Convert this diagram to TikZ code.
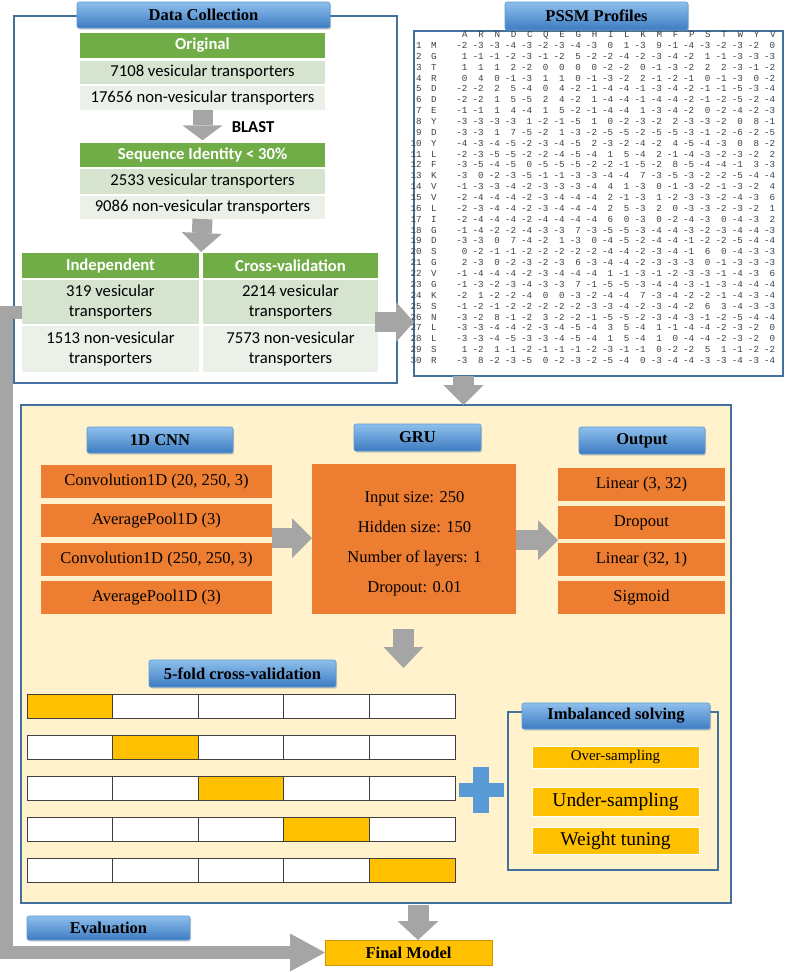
\documentclass[tikz,border=0pt]{standalone}
\usepackage{fontspec}
\setmainfont{Liberation Serif}
\newfontfamily\calibri{Carlito}
\newfontfamily\courier{Liberation Mono}
\usetikzlibrary{arrows.meta,fit,shadows}

\definecolor{panelblue}{HTML}{41719C}
\definecolor{titletop}{HTML}{8EBFEC}
\definecolor{titlebot}{HTML}{3D7CC2}
\definecolor{titleedge}{HTML}{5B9BD5}
\definecolor{tabgreen}{HTML}{70AD47}
\definecolor{tabrowa}{HTML}{D5E3CF}
\definecolor{tabrowb}{HTML}{EBF1E9}
\definecolor{cnnorange}{HTML}{ED7D31}
\definecolor{gold}{HTML}{FFC000}
\definecolor{cream}{HTML}{FFF2CC}
\definecolor{arrowgray}{HTML}{A5A5A5}
\definecolor{pssmgray}{HTML}{404040}
\definecolor{plusblue}{HTML}{5B9BD5}

\begin{document}
\begin{tikzpicture}[x=0.75pt, y=-0.75pt,
    pxbox/.style={inner sep=0pt, outer sep=0pt},
    titlebox/.style={pxbox, rounded corners=1.5pt, top color=titletop, bottom color=titlebot,
        draw=titleedge, line width=0.4pt,
        drop shadow={opacity=0.35, shadow xshift=0.8pt, shadow yshift=-1.2pt}},
    titletxt/.style={inner sep=0pt, font=\fontsize{12.4}{14}\selectfont\bfseries},
    panel/.style={pxbox, draw=panelblue, line width=1.5pt},
    greenhead/.style={pxbox, fill=tabgreen},
    greenrow/.style={pxbox, fill=tabrowa},
    greenrowb/.style={pxbox, fill=tabrowb},
    headtxt/.style={inner sep=0pt, text=white, font=\calibri\fontsize{12.5}{15}\selectfont\bfseries},
    rowtxt/.style={inner sep=0pt, align=center, font=\calibri\fontsize{12.5}{15}\selectfont},
    orangebox/.style={pxbox, fill=cnnorange},
    celltxt/.style={inner sep=0pt, font=\fontsize{12.4}{14}\selectfont},
    goldbox/.style={pxbox, fill=gold, draw=white, line width=0.6pt},
    foldcell/.style={draw=black!75, line width=0.75pt},
    pssmtxt/.style={inner sep=0pt, text=pssmgray, text height=4.5pt, text depth=0pt,
        font=\courier\fontsize{6.9}{8}\selectfont},
    fatarrow/.style n args={3}{draw=arrowgray, line width=#1,
        -{Triangle[width=#2, length=#3, line width=0pt]}}
]
\useasboundingbox (0,0) rectangle (787,972);

% Data collection
\node[panel, fill=white, fit={(14,16) (397,383)}] (dc) {};
\node[titlebox, fit={(77,2) (330,28)}] (dctitle) {};
\node[titletxt] (dctitlet) at (dctitle) {Data Collection};

\node[greenhead, fit={(80,33) (325,58)}] (orig) {};
\node[headtxt] (origt) at (orig) {Original};
\node[greenrow, fit={(80,61) (325,84)}] (ves1) {};
\node[rowtxt] (ves1t) at (ves1) {7108 vesicular transporters};
\node[greenrowb, fit={(80,86) (325,110)}] (non1) {};
\node[rowtxt] (non1t) at (non1) {17656 non-vesicular transporters};

\node[font=\calibri\fontsize{12.5}{15}\selectfont\bfseries] (blast) at (253,127) {BLAST};

\node[greenhead, fit={(80,143) (325,167)}] (seq) {};
\node[headtxt] (seqt) at (seq) {Sequence Identity < 30\%};
\node[greenrow, fit={(80,169) (325,194)}] (ves2) {};
\node[rowtxt] (ves2t) at (ves2) {2533 vesicular transporters};
\node[greenrowb, fit={(80,196) (325,219)}] (non2) {};
\node[rowtxt] (non2t) at (non2) {9086 non-vesicular transporters};

\node[greenhead, fit={(22,253) (199,278)}] (indhead) {};
\node[headtxt] (indheadt) at (indhead) {Independent};
\node[greenhead, fit={(203,253) (378,278)}] (cvhead) {};
\node[headtxt] (cvheadt) at (cvhead) {Cross-validation};
\node[greenrow, fit={(22,280) (199,324)}] (indves) {};
\node[rowtxt] (indvest) at (indves) {319 vesicular\\transporters};
\node[greenrow, fit={(203,280) (378,324)}] (cvves) {};
\node[rowtxt] (cvvest) at (cvves) {2214 vesicular\\transporters};
\node[greenrowb, fit={(22,326) (199,372)}] (indnon) {};
\node[rowtxt] (indnont) at (indnon) {1513 non-vesicular\\transporters};
\node[greenrowb, fit={(203,326) (378,372)}] (cvnon) {};
\node[rowtxt] (cvnont) at (cvnon) {7573 non-vesicular\\transporters};

\coordinate (split) at (201,252);
\draw[fatarrow={15pt}{30pt}{11.25pt}, shorten >=2pt] (non1.south) -- (seq.north);
\draw[fatarrow={15pt}{30pt}{14.25pt}] (non2.south) -- (split);

% PSSM profiles
\node[panel, fill=white, fit={(414,31) (783,376)}] (pssm) {};
\node[titlebox, fit={(505,2) (688,30)}] (pssmtitle) {};
\node[titletxt] (pssmtitlet) at (pssmtitle) {PSSM Profiles};
\foreach \aa [count=\c] in {A,R,N,D,C,Q,E,G,H,I,L,K,M,F,P,S,T,W,Y,V}
    \node[pssmtxt] (h\c) at ({465+(\c-1)*16.2},34) {\aa};
\foreach \n/\aa/\vals in {
    1/M/{-2,-3,-3,-4,-3,-2,-3,-4,-3,0,1,-3,9,-1,-4,-3,-2,-3,-2,0},
    2/G/{1,-1,-1,-2,-3,-1,-2,5,-2,-2,-4,-2,-3,-4,-2,1,-1,-3,-3,-3},
    3/T/{1,1,1,2,-2,0,0,0,0,-2,-2,0,-1,-3,-2,2,2,-3,-1,-2},
    4/R/{0,4,0,-1,-3,1,1,0,-1,-3,-2,2,-1,-2,-1,0,-1,-3,0,-2},
    5/D/{-2,-2,2,5,-4,0,4,-2,-1,-4,-4,-1,-3,-4,-2,-1,-1,-5,-3,-4},
    6/D/{-2,-2,1,5,-5,2,4,-2,1,-4,-4,-1,-4,-4,-2,-1,-2,-5,-2,-4},
    7/E/{-1,-1,1,4,-4,1,5,-2,-1,-4,-4,1,-3,-4,-2,0,-2,-4,-2,-3},
    8/Y/{-3,-3,-3,-3,1,-2,-1,-5,1,0,-2,-3,-2,2,-3,-3,-2,0,8,-1},
    9/D/{-3,-3,1,7,-5,-2,1,-3,-2,-5,-5,-2,-5,-5,-3,-1,-2,-6,-2,-5},
    10/Y/{-4,-3,-4,-5,-2,-3,-4,-5,2,-3,-2,-4,-2,4,-5,-4,-3,0,8,-2},
    11/L/{-2,-3,-5,-5,-2,-2,-4,-5,-4,1,5,-4,2,-1,-4,-3,-2,-3,-2,2},
    12/F/{-3,-5,-4,-5,0,-5,-5,-5,-2,-2,-1,-5,-2,8,-5,-4,-4,-1,3,-3},
    13/K/{-3,0,-2,-3,-5,-1,-1,-3,-3,-4,-4,7,-3,-5,-3,-2,-2,-5,-4,-4},
    14/V/{-1,-3,-3,-4,-2,-3,-3,-3,-4,4,1,-3,0,-1,-3,-2,-1,-3,-2,4},
    15/V/{-2,-4,-4,-4,-2,-3,-4,-4,-4,2,-1,-3,1,-2,-3,-3,-2,-4,-3,6},
    16/L/{-2,-3,-4,-4,-2,-3,-4,-4,-4,2,5,-3,2,0,-3,-3,-2,-3,-2,1},
    17/I/{-2,-4,-4,-4,-2,-4,-4,-4,-4,6,0,-3,0,-2,-4,-3,0,-4,-3,2},
    18/G/{-1,-4,-2,-2,-4,-3,-3,7,-3,-5,-5,-3,-4,-4,-3,-2,-3,-4,-4,-3},
    19/D/{-3,-3,0,7,-4,-2,1,-3,0,-4,-5,-2,-4,-4,-1,-2,-2,-5,-4,-4},
    20/S/{0,-2,-1,-1,-2,-2,-2,-2,-2,-4,-4,-2,-3,-4,-1,6,0,-4,-3,-3},
    21/G/{2,-3,0,-2,-3,-2,-3,6,-3,-4,-4,-2,-3,-3,-3,0,-1,-3,-3,-3},
    22/V/{-1,-4,-4,-4,-2,-3,-4,-4,-4,1,-1,-3,-1,-2,-3,-3,-1,-4,-3,6},
    23/G/{-1,-3,-2,-3,-4,-3,-3,7,-1,-5,-5,-3,-4,-4,-3,-1,-3,-4,-4,-4},
    24/K/{-2,1,-2,-2,-4,0,0,-3,-2,-4,-4,7,-3,-4,-2,-2,-1,-4,-3,-4},
    25/S/{-1,-2,-1,-2,-2,-2,-2,-2,-3,-3,-4,-2,-3,-4,-2,6,3,-4,-3,-3},
    26/N/{-3,-2,8,-1,-2,3,-2,-2,-1,-5,-5,-2,-3,-4,-3,-1,-2,-5,-4,-4},
    27/L/{-3,-3,-4,-4,-2,-3,-4,-5,-4,3,5,-4,1,-1,-4,-4,-2,-3,-2,0},
    28/L/{-3,-3,-4,-5,-3,-3,-4,-5,-4,1,5,-4,1,0,-4,-4,-2,-3,-2,0},
    29/S/{1,-2,1,-1,-2,-1,-1,-1,-2,-3,-1,-1,0,-2,-2,5,1,-1,-2,-2},
    30/R/{-3,8,-2,-3,-5,0,-2,-3,-2,-5,-4,0,-3,-4,-4,-3,-3,-4,-3,-4}}
{
    \pgfmathsetmacro\ry{45.5+(\n-1)*10.86}
    \node[pssmtxt, anchor=east] (rn\n) at (422,\ry) {\n};
    \node[pssmtxt] (ra\n) at (434,\ry) {\aa};
    \foreach \v [count=\c] in \vals
        \node[pssmtxt, anchor=east] (p\n-\c) at ({467.7+(\c-1)*16.2},\ry) {\v};
}

\coordinate (dcout) at (375,322);
\draw[fatarrow={15pt}{30pt}{13.5pt}] (dcout) -- (dcout -| pssm.west);

% Model
\node[panel, fill=cream, fit={(21,405) (731,903)}] (model) {};
\coordinate (pssmout) at (463.5,376);
\draw[fatarrow={15.75pt}{30pt}{15pt}] (pssmout) -- (pssmout |- model.north);

\node[titlebox, fit={(87,427) (233,453)}] (cnntitle) {};
\node[titletxt] (cnntitlet) at (cnntitle) {1D CNN};
\node[titlebox, fit={(354,424) (481,451)}] (grutitle) {};
\node[titletxt] (grutitlet) at (grutitle) {GRU};
\node[titlebox, fit={(579,427) (705,454)}] (outtitle) {};
\node[titletxt] (outtitlet) at (outtitle) {Output};

\node[orangebox, fit={(41,465) (272,498)}] (conv1) {};
\node[celltxt] (conv1t) at (conv1) {Convolution1D (20, 250, 3)};
\node[orangebox, fit={(41,504) (272,537)}] (pool1) {};
\node[celltxt] (pool1t) at (pool1) {AveragePool1D (3)};
\node[orangebox, fit={(41,543) (272,576)}] (conv2) {};
\node[celltxt] (conv2t) at (conv2) {Convolution1D (250, 250, 3)};
\node[orangebox, fit={(41,581) (272,614)}] (pool2) {};
\node[celltxt] (pool2t) at (pool2) {AveragePool1D (3)};

\node[orangebox, fit={(312,464) (516,614)}] (gru) {};
\node[align=center, font=\fontsize{12.4}{22.5}\selectfont] (grutxt) at (414.5,544)
    {Input size: 250\\Hidden size: 150\\Number of layers: 1\\Dropout: 0.01};

\node[orangebox, fit={(558,468) (725,501)}] (lin1) {};
\node[celltxt] (lin1t) at (lin1) {Linear (3, 32)};
\node[orangebox, fit={(558,506) (725,539)}] (drop) {};
\node[celltxt] (dropt) at (drop) {Dropout};
\node[orangebox, fit={(558,543) (725,576)}] (lin2) {};
\node[celltxt] (lin2t) at (lin2) {Linear (32, 1)};
\node[orangebox, fit={(558,581) (725,614)}] (sig) {};
\node[celltxt] (sigt) at (sig) {Sigmoid};

\coordinate (cnnout) at (272,538);
\coordinate (gruout) at (516,540);
\coordinate (grudown) at (403.5,629);
\draw[fatarrow={15pt}{30pt}{15pt}] (cnnout) -- (cnnout -| gru.west);
\draw[fatarrow={15pt}{30pt}{15pt}] (gruout) -- (gruout -| lin1.west);
\draw[fatarrow={15.75pt}{30pt}{15.75pt}] (grudown) -- ++(0,39);

% 5-fold cross-validation
\node[titlebox, fit={(149,660) (336,687)}] (foldtitle) {};
\node[titletxt] (foldtitlet) at (foldtitle) {5-fold cross-validation};
\foreach \r in {1,...,5}{
    \foreach \c in {1,...,5}{
        \ifnum\r=\c \def\cellfill{gold}\else\def\cellfill{white}\fi
        \draw[foldcell, fill=\cellfill] ({27+(\c-1)*85.6},{694+(\r-1)*41}) rectangle ++(85.6,24);
    }
}
\fill[plusblue] (459,783) rectangle (504,797);
\fill[plusblue] (473,767) rectangle (489,813);

% Imbalanced solving
\node[pxbox, draw=panelblue, line width=1.2pt, fit={(508,712) (718,870)}] (imb) {};
\node[titlebox, fit={(522,703) (710,729)}] (imbtitle) {};
\node[titletxt] (imbtitlet) at (imbtitle) {Imbalanced solving};
\node[goldbox, fit={(532,746) (699,768)}] (over) {};
\node[celltxt, font=\fontsize{11.2}{13}\selectfont] (overt) at (over) {Over-sampling};
\node[goldbox, fit={(532,787) (699,816)}] (under) {};
\node[celltxt, font=\fontsize{14.6}{17}\selectfont] (undert) at (under) {Under-sampling};
\node[goldbox, fit={(532,827) (699,854)}] (weight) {};
\node[celltxt, font=\fontsize{14.6}{17}\selectfont] (weightt) at (weight) {Weight tuning};

% Evaluation
\node[titlebox, fit={(27,916) (190,940)}] (evaltitle) {};
\node[titletxt] (evaltitlet) at (evaltitle) {Evaluation};
\node[pxbox, fill=gold, draw=gold!80!black, line width=0.5pt, fit={(325,940) (492,965)}] (final) {};
\node[titletxt] (finalt) at (final) {Final Model};

\coordinate (modelout) at (418,905);
\draw[fatarrow={15.75pt}{30.75pt}{14.25pt}] (modelout) -- (modelout |- final.north);

\coordinate (evalstart) at (22,312.5);
\coordinate (evalcorner) at (6.5,312.5);
\draw[fatarrow={9.75pt}{28.5pt}{26.25pt}] (evalstart) -- (evalcorner) |- (final.west);

\end{tikzpicture}
\end{document}
